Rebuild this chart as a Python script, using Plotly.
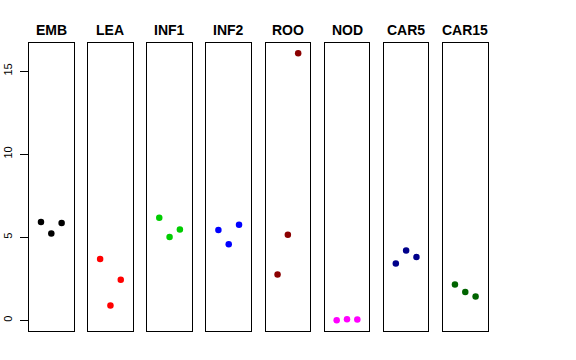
import plotly.graph_objects as go

groups = ["EMB", "LEA", "INF1", "INF2", "ROO", "NOD", "CAR5", "CAR15"]
colors = ["#000000", "#FF0000", "#00CD00", "#0000FF", "#8B0000", "#FF00FF", "#00008B", "#006400"]
replicate = [1, 2, 3]
values = [
    [5.92, 5.23, 5.85],
    [3.69, 0.89, 2.44],
    [6.17, 5.01, 5.47],
    [5.43, 4.57, 5.75],
    [2.76, 5.15, 16.07],
    [0.01, 0.07, 0.05],
    [3.42, 4.20, 3.81],
    [2.16, 1.70, 1.43],
]
yticks = [0, 5, 10, 15]

W, H = 576, 360
left0, pitch, pw = 29.0, 59.14, 44.6
ybot, ytop = 331.0, 43.3
title_y = 29.5

fig = go.Figure()
layout = dict(
    width=W, height=H, margin=dict(l=0, r=0, t=0, b=0, autoexpand=False),
    plot_bgcolor="white", paper_bgcolor="white", showlegend=False,
    font=dict(family="Liberation Sans, Arial, sans-serif", color="black"),
)
annotations = []
for i, (g, c, v) in enumerate(zip(groups, colors, values)):
    n = "" if i == 0 else str(i + 1)
    fig.add_trace(go.Scatter(
        x=replicate, y=v, mode="markers",
        marker=dict(color=c, size=6.5, line=dict(width=0)),
        xaxis="x" + n, yaxis="y" + n, hoverinfo="skip",
    ))
    x0 = (left0 + i * pitch) / W
    x1 = (left0 + i * pitch + pw) / W
    layout["xaxis" + n] = dict(
        domain=[x0, x1], range=[-0.16, 4.16], anchor="y" + n, automargin=False,
        showgrid=False, zeroline=False, showticklabels=False, ticks="",
        showline=True, mirror=True, linecolor="black", linewidth=1,
    )
    ya = dict(
        domain=[(H - ybot) / H, (H - ytop) / H], range=[-0.644, 16.67],
        anchor="x" + n, showgrid=False, zeroline=False, automargin=False,
        showline=True, mirror=True, linecolor="black", linewidth=1,
    )
    if i == 0:
        ya.update(tickvals=yticks, ticktext=[str(t) for t in yticks],
                  ticks="outside", ticklen=8, tickcolor="black", tickwidth=1,
                  tickangle=-90, tickfont=dict(size=11, color="black"),
                  ticklabelstandoff=4)
    else:
        ya.update(showticklabels=False, ticks="")
    layout["yaxis" + n] = ya
    annotations.append(dict(
        text="<b>" + g + "</b>", x=(x0 + x1) / 2, y=1 - title_y / H,
        xref="paper", yref="paper", xanchor="center", yanchor="middle",
        showarrow=False, font=dict(size=14, color="black"),
    ))
layout["annotations"] = annotations
fig.update_layout(**layout)
fig.write_html(
    "out.html",
    config={"displayModeBar": False, "staticPlot": True},
    post_script="document.body.style.margin='0';document.body.style.overflow='hidden';",
)
